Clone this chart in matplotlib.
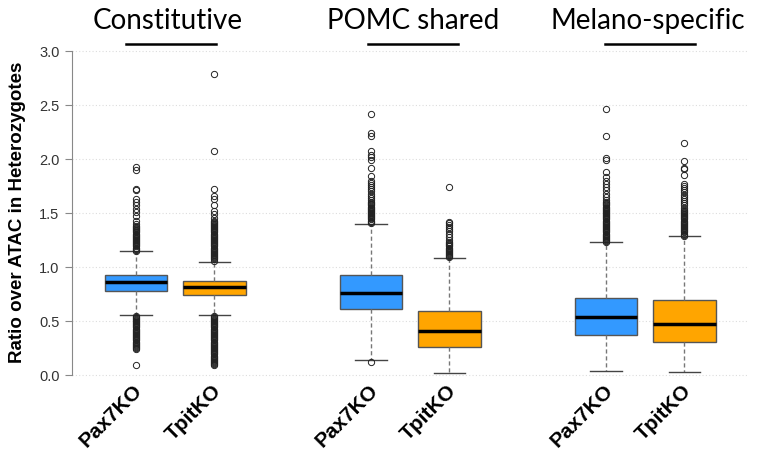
import matplotlib
matplotlib.use("Agg")
import matplotlib.pyplot as plt
import matplotlib.transforms as mtrans
from matplotlib.lines import Line2D

# groups / boxes
groups = ["Constitutive", "POMC shared", "Melano-specific"]
box_labels = ["Pax7KO", "TpitKO", "Pax7KO", "TpitKO", "Pax7KO", "TpitKO"]
positions = [1, 2, 4, 5, 7, 8]
colors = ["#3399FF", "#FFA500"] * 3

# box statistics
q1 = [0.775, 0.740, 0.607, 0.262, 0.370, 0.302]
med = [0.862, 0.815, 0.759, 0.407, 0.537, 0.472]
q3 = [0.926, 0.867, 0.929, 0.593, 0.713, 0.697]
whislo = [0.558, 0.558, 0.142, 0.018, 0.040, 0.031]
whishi = [1.147, 1.050, 1.400, 1.083, 1.228, 1.287]

# outliers
fl_const_pax7 = [1.15, 1.16, 1.17, 1.18, 1.19, 1.20, 1.21, 1.22, 1.23, 1.24, 1.25,
                 1.26, 1.27, 1.28, 1.29, 1.30, 1.31, 1.32, 1.33, 1.34, 1.35, 1.36,
                 1.37, 1.38, 1.40, 1.43, 1.47, 1.51, 1.54, 1.57, 1.60, 1.63, 1.71,
                 1.72, 1.90, 1.93,
                 0.55, 0.54, 0.53, 0.52, 0.51, 0.50, 0.49, 0.48, 0.47, 0.46, 0.45,
                 0.44, 0.43, 0.42, 0.41, 0.40, 0.39, 0.38, 0.37, 0.36, 0.35, 0.34,
                 0.33, 0.32, 0.31, 0.30, 0.29, 0.28, 0.27, 0.26, 0.25, 0.24, 0.095]
fl_const_tpit = [1.06, 1.07, 1.08, 1.09, 1.10, 1.11, 1.12, 1.13, 1.14, 1.15, 1.16,
                 1.17, 1.18, 1.19, 1.20, 1.21, 1.22, 1.23, 1.24, 1.25, 1.26, 1.27,
                 1.28, 1.29, 1.30, 1.31, 1.32, 1.33, 1.34, 1.35, 1.36, 1.37, 1.38,
                 1.39, 1.40, 1.41, 1.42, 1.43, 1.45, 1.49, 1.52, 1.57, 1.63, 1.66,
                 1.72, 2.07, 2.79,
                 0.55, 0.54, 0.53, 0.52, 0.51, 0.50, 0.49, 0.48, 0.47, 0.46, 0.45,
                 0.44, 0.43, 0.42, 0.41, 0.40, 0.39, 0.38, 0.37, 0.36, 0.35, 0.34,
                 0.33, 0.32, 0.31, 0.30, 0.29, 0.28, 0.27, 0.26, 0.25, 0.24, 0.23,
                 0.22, 0.21, 0.20, 0.19, 0.18, 0.17, 0.16, 0.15, 0.14, 0.13, 0.12,
                 0.11, 0.10, 0.09]
fl_pomc_pax7 = [1.41, 1.42, 1.43, 1.44, 1.45, 1.46, 1.47, 1.48, 1.49, 1.50, 1.51,
                1.52, 1.53, 1.54, 1.55, 1.56, 1.57, 1.58, 1.59, 1.60, 1.62, 1.64,
                1.66, 1.68, 1.70, 1.72, 1.74, 1.76, 1.78, 1.80, 1.84, 1.92, 1.99,
                2.02, 2.04, 2.07, 2.21, 2.24, 2.42, 0.123]
fl_pomc_tpit = [1.09, 1.10, 1.11, 1.12, 1.13, 1.14, 1.15, 1.16, 1.17, 1.18, 1.19,
                1.20, 1.21, 1.22, 1.23, 1.25, 1.28, 1.31, 1.33, 1.35, 1.37, 1.39,
                1.41, 1.42, 1.74]
fl_mel_pax7 = [1.23, 1.24, 1.25, 1.26, 1.27, 1.28, 1.29, 1.30, 1.31, 1.32, 1.33,
               1.34, 1.35, 1.36, 1.37, 1.38, 1.39, 1.40, 1.41, 1.42, 1.43, 1.44,
               1.45, 1.46, 1.47, 1.48, 1.49, 1.50, 1.51, 1.52, 1.53, 1.54, 1.55,
               1.56, 1.57, 1.58, 1.59, 1.60, 1.62, 1.65, 1.68, 1.71, 1.74, 1.77,
               1.80, 1.83, 1.88, 1.99, 2.01, 2.21, 2.46]
fl_mel_tpit = [1.29, 1.30, 1.31, 1.32, 1.33, 1.34, 1.35, 1.36, 1.37, 1.38, 1.39,
               1.40, 1.41, 1.42, 1.43, 1.44, 1.45, 1.46, 1.47, 1.48, 1.49, 1.50,
               1.51, 1.52, 1.53, 1.55, 1.57, 1.59, 1.61, 1.63, 1.65, 1.67, 1.69,
               1.71, 1.73, 1.75, 1.77, 1.85, 1.91, 1.92, 1.98, 2.15]
fliers = [fl_const_pax7, fl_const_tpit, fl_pomc_pax7, fl_pomc_tpit, fl_mel_pax7, fl_mel_tpit]

yticks = [0.0, 0.5, 1.0, 1.5, 2.0, 2.5, 3.0]

stats = []
for i in range(6):
    stats.append(dict(q1=q1[i], med=med[i], q3=q3[i], whislo=whislo[i],
                      whishi=whishi[i], fliers=fliers[i]))

fig = plt.figure(figsize=(7.7, 4.52), dpi=100)
ax = fig.add_axes([72 / 770, 1 - 381.4 / 452, 675 / 770, 334.8 / 452])

bp = ax.bxp(stats, positions=positions, widths=0.8, capwidths=0.4, patch_artist=True,
            boxprops=dict(edgecolor="#555555", linewidth=1.0),
            medianprops=dict(color="black", linewidth=2.5),
            whiskerprops=dict(color="#777777", linewidth=1.0, linestyle=(0, (3, 2))),
            capprops=dict(color="#444444", linewidth=1.0),
            flierprops=dict(marker="o", markersize=4.5, markerfacecolor="none",
                            markeredgecolor="#222222", markeredgewidth=0.7))
for patch, c in zip(bp["boxes"], colors):
    patch.set_facecolor(c)
for a in bp["boxes"] + bp["medians"] + bp["whiskers"] + bp["caps"] + bp["fliers"]:
    a.set_zorder(3)

ax.set_xlim(0.183, 8.80)
ax.set_ylim(-0.05, 3.05)
ax.set_yticks(yticks)
ax.set_yticklabels(["%.1f" % v for v in yticks], fontsize=10.5, color="#333333",
                   family="Liberation Sans")
ax.yaxis.grid(True, linestyle=(0, (1, 2)), color="#dddddd", linewidth=0.8, zorder=0)
ax.set_axisbelow(True)

for s in ["top", "right", "bottom"]:
    ax.spines[s].set_visible(False)
ax.spines["left"].set_bounds(0, 3)
ax.spines["left"].set_color("#888888")
ax.tick_params(axis="y", length=5, color="#888888", pad=4)

ax.set_xticks(positions)
ax.set_xticklabels(box_labels, rotation=45, ha="right", va="top", rotation_mode="anchor",
                   fontsize=15, fontweight="bold", family="Liberation Sans")
ax.tick_params(axis="x", length=0, pad=0)
shift = mtrans.ScaledTranslation(-3 / 100, 0, fig.dpi_scale_trans)
for lab in ax.get_xticklabels():
    lab.set_transform(lab.get_transform() + shift)

fig.text(18 / 770, 1 - 212 / 452, "Ratio over ATAC in Heterozygotes", rotation=90,
         ha="center", va="center", fontsize=13.5, fontweight="bold", family="Liberation Sans")

# group titles with underline
blend = mtrans.blended_transform_factory(ax.transData, fig.transFigure)
title_x = [1.40, 4.54, 7.54]
line_x = [1.45, 4.54, 7.56]
for g, tx, lx in zip(groups, title_x, line_x):
    ax.text(tx, 1 - 29 / 452, g, transform=blend,
            ha="center", va="baseline", fontsize=20, family="Lato")
    ln = Line2D([lx - 0.575, lx + 0.575], [1 - 45 / 452, 1 - 45 / 452], color="black",
                linewidth=1.8, transform=blend)
    ln.set_clip_on(False)
    ax.add_line(ln)

fig.savefig("out.png", dpi=100)
